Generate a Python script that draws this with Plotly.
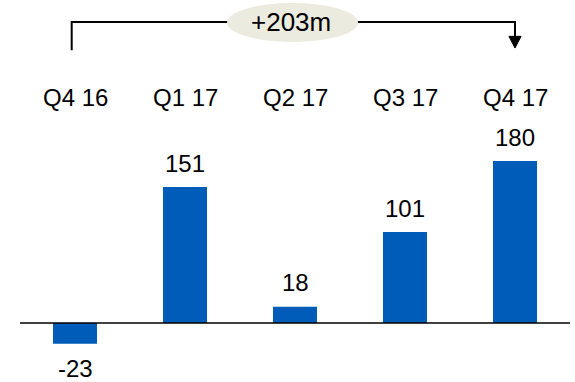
import plotly.graph_objects as go

# Quarterly results (m)
quarters = ["Q4 16", "Q1 17", "Q2 17", "Q3 17", "Q4 17"]
values = [-23, 151, 18, 101, 180]
change_label = "+203m"

BAR_COLOR = "#005CB9"
FONT = "Liberation Sans, Arial, sans-serif"
FONT_SIZE = 24

x = list(range(len(quarters)))

fig = go.Figure()
fig.add_trace(go.Bar(
    x=x, y=values, width=0.4,
    marker=dict(color=BAR_COLOR, line=dict(width=0)),
    hoverinfo="skip",
))

annotations = []
# Quarter labels row above the bars
for i, q in enumerate(quarters):
    annotations.append(dict(
        x=i, y=251, text=q, showarrow=False,
        xanchor="center", yanchor="middle",
        font=dict(family=FONT, size=FONT_SIZE, color="#000000"),
    ))
# Value labels, placed just outside the bar end
for i, v in enumerate(values):
    annotations.append(dict(
        x=i, y=v, text=str(v), showarrow=False,
        xanchor="center", yanchor="middle",
        yshift=24 if v >= 0 else -25,
        font=dict(family=FONT, size=FONT_SIZE, color="#000000"),
    ))
# Change badge text
annotations.append(dict(
    x=1.968, y=335, text=change_label, showarrow=False,
    xanchor="center", yanchor="middle",
    font=dict(family=FONT, size=26, color="#000000"),
))

bracket_y = 334.4
left_x = -0.03
right_x = len(quarters) - 1
shapes = [
    # baseline
    dict(type="line", xref="x", yref="y", x0=-0.5, x1=len(quarters) - 0.5,
         y0=0, y1=0, line=dict(color="#000000", width=1.5), layer="above"),
    # bracket: left leg, top bar, right leg
    dict(type="path", xref="x", yref="y",
         path=f"M {left_x},303 L {left_x},{bracket_y} L {right_x},{bracket_y} L {right_x},314",
         line=dict(color="#000000", width=2)),
    # arrow head
    dict(type="path", xref="x", yref="y",
         path=f"M {right_x - 0.055},318.5 L {right_x + 0.055},318.5 L {right_x},305.5 Z",
         fillcolor="#000000", line=dict(color="#000000", width=1)),
    # badge ellipse
    dict(type="circle", xref="x", yref="y", x0=1.382, x1=2.573, y0=312.2, y1=355.6,
         fillcolor="#ECEBDF", line=dict(width=0)),
]

fig.update_layout(
    width=575, height=382,
    margin=dict(l=0, r=0, t=0, b=0),
    paper_bgcolor="#FFFFFF", plot_bgcolor="#FFFFFF",
    showlegend=False,
    xaxis=dict(range=[-75 / 110, 500 / 110], visible=False, fixedrange=True),
    yaxis=dict(range=[-59 / 0.9, 323 / 0.9], visible=False, fixedrange=True),
    annotations=annotations,
    shapes=shapes,
)

fig.write_html("out.html")
